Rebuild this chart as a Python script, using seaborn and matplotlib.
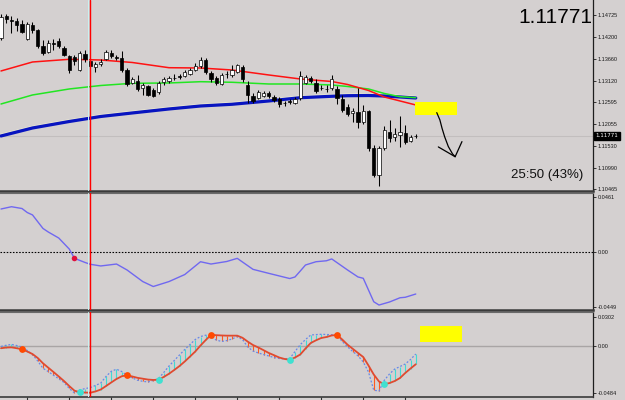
import numpy as np
import pandas as pd
import matplotlib
matplotlib.use("Agg")
import matplotlib.pyplot as plt
import matplotlib.transforms as mtransforms
from matplotlib.patches import Rectangle
import seaborn as sns

# ---------------- data ----------------
opens = [1.14169, 1.14708, 1.14610, 1.14586, 1.14512, 1.14145, 1.14488, 1.14365, 1.13973, 1.13826,
         1.14047, 1.14096, 1.13924, 1.13728, 1.13704, 1.13373, 1.13789, 1.13606, 1.13459, 1.13520,
         1.13655, 1.13802, 1.13704, 1.13679, 1.13385, 1.13067, 1.13116, 1.12956, 1.12993, 1.12895,
         1.12846, 1.13079, 1.13116, 1.13201, 1.13226, 1.13250, 1.13299, 1.13385, 1.13471, 1.13630,
         1.13312, 1.13177, 1.13042, 1.13287, 1.13263, 1.13348, 1.13459, 1.13018, 1.12736, 1.12699,
         1.12736, 1.12822, 1.12724, 1.12662, 1.12577, 1.12613, 1.12577, 1.12699, 1.13067, 1.13189,
         1.13067, 1.12944, 1.12920, 1.12944, 1.12920, 1.12675, 1.12466, 1.12332, 1.12356, 1.12111,
         1.12381, 1.11474, 1.10812, 1.11474, 1.11866, 1.11744, 1.11793, 1.11842, 1.11646, 1.11760]
highs = [1.14757, 1.14757, 1.14708, 1.14659, 1.14610, 1.14561, 1.14549, 1.14390, 1.14120, 1.14120,
         1.14145, 1.14169, 1.13973, 1.13753, 1.13753, 1.13851, 1.13875, 1.13679, 1.13593, 1.13655,
         1.13875, 1.13875, 1.13753, 1.13851, 1.13434, 1.13214, 1.13263, 1.13067, 1.13018, 1.12944,
         1.13116, 1.13214, 1.13238, 1.13287, 1.13287, 1.13385, 1.13434, 1.13557, 1.13704, 1.13679,
         1.13361, 1.13238, 1.13312, 1.13361, 1.13508, 1.13532, 1.13508, 1.13116, 1.12822, 1.12895,
         1.12871, 1.12871, 1.12773, 1.12724, 1.12626, 1.12675, 1.12724, 1.13361, 1.13263, 1.13238,
         1.13165, 1.13018, 1.13018, 1.13263, 1.12993, 1.12773, 1.12552, 1.12454, 1.12944, 1.12528,
         1.12405, 1.11548, 1.11523, 1.12013, 1.12160, 1.11964, 1.12258, 1.12038, 1.11793, 1.11817]
lows = [1.14120, 1.14537, 1.14292, 1.14341, 1.14292, 1.14120, 1.14292, 1.13924, 1.13753, 1.13802,
        1.13875, 1.13924, 1.13728, 1.13312, 1.13508, 1.13361, 1.13581, 1.13434, 1.13348, 1.13483,
        1.13630, 1.13679, 1.13630, 1.13336, 1.12993, 1.13042, 1.12871, 1.12773, 1.12748, 1.12711,
        1.12797, 1.13018, 1.13067, 1.13140, 1.13165, 1.13214, 1.13263, 1.13361, 1.13434, 1.13287,
        1.13091, 1.13018, 1.13018, 1.13189, 1.13214, 1.13312, 1.13091, 1.12577, 1.12577, 1.12675,
        1.12711, 1.12699, 1.12601, 1.12479, 1.12503, 1.12552, 1.12552, 1.12650, 1.13042, 1.13067,
        1.12822, 1.12895, 1.12846, 1.12895, 1.12552, 1.12356, 1.12258, 1.12111, 1.11964, 1.12062,
        1.11400, 1.10763, 1.10543, 1.11425, 1.11621, 1.11646, 1.11499, 1.11572, 1.11621, 1.11719]
closes = [1.14684, 1.14635, 1.14586, 1.14488, 1.14328, 1.14512, 1.14353, 1.13961, 1.13802, 1.14047,
          1.14034, 1.13961, 1.13753, 1.13385, 1.13606, 1.13802, 1.13655, 1.13471, 1.13544, 1.13593,
          1.13814, 1.13716, 1.13691, 1.13385, 1.13042, 1.13165, 1.12920, 1.13018, 1.12773, 1.12736,
          1.13067, 1.13153, 1.13189, 1.13194, 1.13218, 1.13324, 1.13373, 1.13495, 1.13630, 1.13336,
          1.13165, 1.13067, 1.13263, 1.13280, 1.13385, 1.13508, 1.13165, 1.12773, 1.12613, 1.12846,
          1.12810, 1.12736, 1.12638, 1.12552, 1.12564, 1.12601, 1.12675, 1.13238, 1.13214, 1.13116,
          1.12871, 1.12934, 1.12910, 1.13165, 1.12699, 1.12405, 1.12307, 1.12381, 1.12099, 1.12381,
          1.11474, 1.10812, 1.11474, 1.11915, 1.11719, 1.11817, 1.11854, 1.11621, 1.11744, 1.11771]

ma_idx = [0, 6, 13, 19, 25, 32, 38, 44, 51, 57, 63, 66, 70, 73, 76, 79]
ma_red = [1.13361, 1.13581, 1.13647, 1.13630, 1.13569, 1.13441, 1.13434, 1.13385, 1.13263, 1.13165,
          1.13103, 1.13030, 1.12883, 1.12724, 1.12626, 1.12528]
ma_green = [1.12552, 1.12773, 1.12920, 1.13005, 1.13059, 1.13067, 1.13098, 1.13084, 1.13042, 1.13042,
            1.13018, 1.12981, 1.12920, 1.12810, 1.12731, 1.12706]
ma_blue = [1.11768, 1.11964, 1.12123, 1.12246, 1.12332, 1.12430, 1.12503, 1.12545, 1.12626, 1.12706,
           1.12741, 1.12755, 1.12760, 1.12748, 1.12724, 1.12699]

osc_idx = [0, 2, 4, 5, 6, 8, 9, 11, 13, 14, 16, 17, 19, 22, 24, 27, 29, 32, 35, 38,
           40, 43, 45, 48, 51, 55, 56, 57, 58, 60, 62, 63, 66, 68, 69, 71, 72, 74, 76, 77, 79]
osc_val = [0.0358, 0.0377, 0.0362, 0.0329, 0.0309, 0.0197, 0.0168, 0.0118, 0.0027, -0.0050,
           -0.0084, -0.0099, -0.0113, -0.0097, -0.0146, -0.0242, -0.0283, -0.0242, -0.0184, -0.0078,
           -0.0097, -0.0076, -0.0050, -0.0141, -0.0174, -0.0217, -0.0204, -0.0155, -0.0105, -0.0078,
           -0.0070, -0.0055, -0.0146, -0.0204, -0.0215, -0.0409, -0.0436, -0.0411, -0.0376, -0.0372,
           -0.0345]
osc_dot_idx = [14]
osc_dot_val = [-0.0050]

sig_red = [-0.0021, -0.0014, -0.0012, -0.0021, -0.0032, -0.0055, -0.0081, -0.0122, -0.0177, -0.0222,
           -0.0267, -0.0313, -0.0360, -0.0412, -0.0460, -0.0477, -0.0479, -0.0481, -0.0468, -0.0448,
           -0.0412, -0.0375, -0.0339, -0.0311, -0.0300, -0.0313, -0.0327, -0.0336, -0.0345, -0.0349,
           -0.0347, -0.0318, -0.0285, -0.0246, -0.0205, -0.0158, -0.0107, -0.0055, 0.0007, 0.0064,
           0.0116, 0.0114, 0.0111, 0.0109, 0.0109, 0.0109, 0.0087, 0.0047, 0.0012, -0.0013,
           -0.0041, -0.0070, -0.0093, -0.0117, -0.0132, -0.0141, -0.0117, -0.0086, -0.0024, 0.0033,
           0.0061, 0.0085, 0.0095, 0.0111, 0.0116, 0.0069, 0.0016, -0.0027, -0.0070, -0.0112,
           -0.0200, -0.0293, -0.0365, -0.0393, -0.0381, -0.0360, -0.0329, -0.0277, -0.0231, -0.0187]
sig_blue = [-0.0003, 0.0010, 0.0018, 0.0007, -0.0010, -0.0044, -0.0086, -0.0153, -0.0229, -0.0262,
            -0.0301, -0.0337, -0.0375, -0.0437, -0.0484, -0.0451, -0.0439, -0.0428, -0.0406, -0.0381,
            -0.0313, -0.0260, -0.0238, -0.0262, -0.0303, -0.0327, -0.0352, -0.0363, -0.0370, -0.0355,
            -0.0334, -0.0272, -0.0205, -0.0148, -0.0091, -0.0034, 0.0018, 0.0069, 0.0100, 0.0114,
            0.0095, 0.0064, 0.0049, 0.0058, 0.0074, 0.0100, 0.0069, -0.0008, -0.0050, -0.0070,
            -0.0086, -0.0101, -0.0117, -0.0127, -0.0132, -0.0127, -0.0055, 0.0016, 0.0069, 0.0116,
            0.0120, 0.0123, 0.0121, 0.0118, 0.0109, 0.0049, -0.0006, -0.0055, -0.0099, -0.0163,
            -0.0267, -0.0455, -0.0463, -0.0353, -0.0287, -0.0236, -0.0210, -0.0184, -0.0138, -0.0081]
peak_idx = [4, 24, 40, 64]
trough_idx = [15, 30, 55, 73]

price_ticks = [1.14725, 1.14200, 1.13660, 1.13120, 1.12595, 1.12055, 1.11530, 1.10990, 1.10465]
price_labels = ["1.14725", "1.14200", "1.13660", "1.13120", "1.12595", "1.12055", "1.11530", "1.10990", "1.10465"]
osc_ticks = [0.0461, 0.0, -0.0449]
osc_labels = ["0.0461", "0.00", "-0.0449"]
sig_ticks = [0.0302, 0.0, -0.0484]
sig_labels = ["0.0302", "0.00", "-0.0484"]
time_ticks = [5, 13, 21, 29, 37, 45, 53, 61, 69, 77]

last_price = 1.11771
last_label = "1.11771"
countdown_label = "25:50 (43%)"
marker_bar = 16.86

# ---------------- styling ----------------
sns.set_theme(style="white")
plt.rcParams['font.family'] = ['Liberation Sans', 'DejaVu Sans']

BG = '#d4d0d0'
W, H = 625, 400
fig = plt.figure(figsize=(6.25, 4.0), dpi=100, facecolor=BG)
aw = 593 / W
ax1 = fig.add_axes([0, 1 - 191 / H, aw, 191 / H])
ax2 = fig.add_axes([0, 1 - 310 / H, aw, 117 / H])
ax3 = fig.add_axes([0, 1 - 397 / H, aw, 85 / H])
XL = (-0.19, 112.76)

for ax in (ax1, ax2, ax3):
    ax.set_facecolor(BG)
    ax.set_xlim(*XL)
    for s in ('left', 'top'):
        ax.spines[s].set_visible(False)
    ax.spines['right'].set_color('#1e1e1e')
    ax.spines['right'].set_linewidth(0.9)
    ax.spines['bottom'].set_color('#3a3a3a')
    ax.spines['bottom'].set_linewidth(1.8)
    ax.yaxis.tick_right()
    ax.tick_params(axis='y', right=True, left=False, length=2, width=0.6, pad=1.2,
                   labelsize=4, colors='#1a1a1a')
    ax.grid(False)
for ax in (ax2, ax3):
    ax.spines['top'].set_visible(True)
    ax.spines['top'].set_color('#6a6a6a')
    ax.spines['top'].set_linewidth(0.8)

# ---------------- main price panel ----------------
ax1.set_ylim(1.10420, 1.15100)
n = len(opens)
df = pd.DataFrame(dict(i=np.arange(n), o=opens, h=highs, l=lows, c=closes))
up = (df.c >= df.o).values

ax1.axhline(last_price, color='#c2bebe', lw=0.8, zorder=1)
ax1.axvline(marker_bar - 0.23, color='#c8f4f4', lw=0.7, zorder=6)
ax1.axvline(marker_bar, color='#ff0000', lw=1.0, zorder=6)

ma_df = pd.DataFrame(dict(i=ma_idx, red=ma_red, green=ma_green, blue=ma_blue))
hl = mtransforms.offset_copy(ax1.transData, fig=fig, x=0, y=1.8, units='dots')
ax1.plot(ma_df.i, ma_df.blue, color='#eeecd2', lw=0.7, transform=hl, zorder=2)
sns.lineplot(data=ma_df, x='i', y='blue', ax=ax1, color='#0814c0', lw=2.3, zorder=2)
sns.lineplot(data=ma_df, x='i', y='green', ax=ax1, color='#22e622', lw=1.1, zorder=2)
sns.lineplot(data=ma_df, x='i', y='red', ax=ax1, color='#ff1212', lw=1.1, zorder=2)

ax1.vlines(df.i, df.l, df.h, color='black', lw=0.75, zorder=3)
body_lo = np.minimum(df.o, df.c)
body_h = np.maximum((df.c - df.o).abs(), 0.00006)
ax1.bar(df.i, body_h, bottom=body_lo, width=0.58,
        color=np.where(up, 'white', 'black'), edgecolor='black', linewidth=0.5, zorder=4)

ax1.add_patch(Rectangle((78.9, 1.12285), 8.0, 0.00325, facecolor='#ffff00', edgecolor='none', zorder=5))
arrow_x = [83.0, 83.6, 84.0, 84.5, 85.2, 86.0, 86.5]
arrow_y = [1.12340, 1.12160, 1.11960, 1.11750, 1.11510, 1.11330, 1.11260]
ax1.plot(arrow_x, arrow_y, color='black', lw=0.9, zorder=6)
ax1.plot([83.3, 86.5, 87.8], [1.11500, 1.11260, 1.11630], color='black', lw=0.9, zorder=6)

ax1.set_yticks(price_ticks)
ax1.set_yticklabels(price_labels)
ax1.set_xticks([])
ax1.text(1.004, last_price, last_label, transform=mtransforms.blended_transform_factory(ax1.transAxes, ax1.transData),
         ha='left', va='center', fontsize=4, color='white', family='DejaVu Sans',
         bbox=dict(boxstyle='square,pad=0.25', fc='black', ec='black'), clip_on=False)

fig.text(592.5 / W, 1 - 23.3 / H, last_label, ha='right', va='baseline', fontsize=15, color='black')
fig.text(583.5 / W, 1 - 178.3 / H, countdown_label, ha='right', va='baseline', fontsize=9.5, color='#111111')

# ---------------- oscillator panel ----------------
ax2.set_ylim(-0.04772, 0.04904)
ax2.axhline(0, color='black', lw=0.8, ls=(0, (1.4, 1.4)), zorder=1)
ax2.axvline(marker_bar - 0.23, color='#c8f4f4', lw=0.7, zorder=6)
ax2.axvline(marker_bar, color='#ff0000', lw=1.0, zorder=6)
sns.lineplot(x=osc_idx, y=osc_val, ax=ax2, color='#7068f0', lw=1.0, zorder=3)
ax2.scatter(osc_dot_idx, osc_dot_val, s=16, color='#e0103c', zorder=4, linewidths=0)
ax2.set_yticks(osc_ticks)
ax2.set_yticklabels(osc_labels)
ax2.set_xticks([])

# ---------------- signal panel ----------------
ax3.set_ylim(-0.05253, 0.03536)
ax3.axhline(0, color='#a9a5a5', lw=1.0, zorder=1)
ax3.axvline(marker_bar - 0.23, color='#c8f4f4', lw=0.7, zorder=6)
ax3.axvline(marker_bar, color='#ff0000', lw=1.0, zorder=6)
sr = np.array(sig_red)
sb = np.array(sig_blue)
idx = np.arange(len(sr))
hatch_cols = np.where(sb >= sr, '#40dcd2', '#ff5a1e')
ax3.vlines(idx, sr, sb, colors=hatch_cols, lw=0.8, zorder=2)
sns.lineplot(x=idx, y=sb, ax=ax3, color='#6888e8', lw=0.9, linestyle=(0, (1.5, 1.5)), zorder=3)
sns.lineplot(x=idx, y=sr, ax=ax3, color='#e04a30', lw=1.3, zorder=4)
ax3.scatter(peak_idx, sr[peak_idx], s=24, color='#ff4a00', zorder=5, linewidths=0)
ax3.scatter(trough_idx, sr[trough_idx], s=24, color='#40e0d0', zorder=5, linewidths=0)
ax3.add_patch(Rectangle((79.8, 0.0047), 8.0, 0.0162, facecolor='#ffff00', edgecolor='none', zorder=5))
ax3.set_yticks(sig_ticks)
ax3.set_yticklabels(sig_labels)
ax3.set_xticks(time_ticks)
ax3.tick_params(axis='x', bottom=True, length=2.2, width=0.8, direction='out', labelbottom=False, colors='#303030')
ax3.spines['bottom'].set_linewidth(1.2)

for ax in (ax1, ax2, ax3):
    ax.set_xlabel('')
    ax.set_ylabel('')

fig.savefig('out.png', dpi=100, facecolor=BG)
